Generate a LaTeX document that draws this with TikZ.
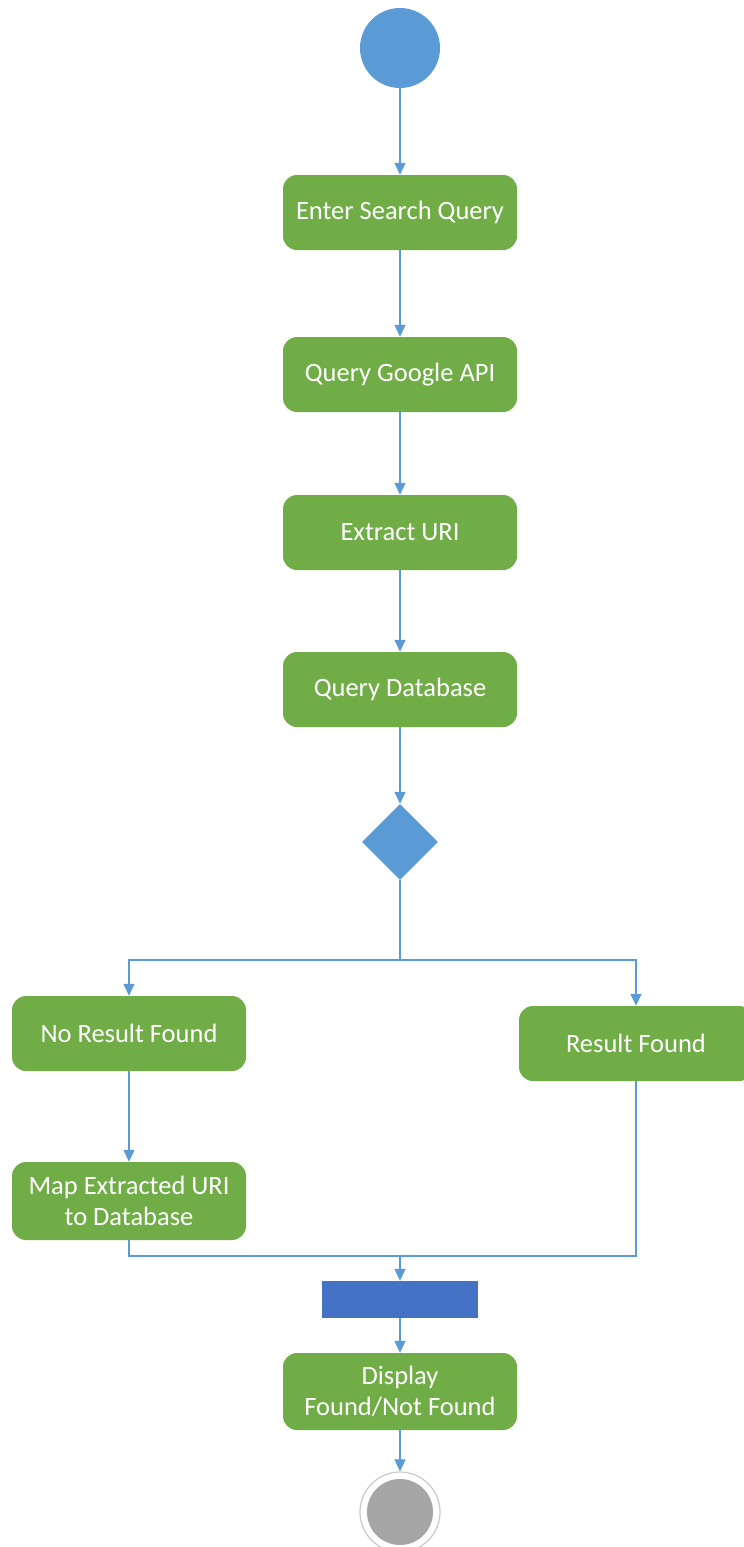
\documentclass[tikz,border=0pt]{standalone}
\usepackage{fontspec}
\setmainfont{Carlito}
\usetikzlibrary{arrows.meta,shapes.geometric}
\definecolor{actgreen}{HTML}{70AD47}
\definecolor{flowblue}{HTML}{5B9BD5}
\definecolor{barblue}{HTML}{4472C4}
\definecolor{endgray}{HTML}{A5A5A5}
\tikzset{
  activity/.style={rectangle, rounded corners=14pt, fill=actgreen, text=white,
    minimum width=234pt, minimum height=75pt, align=center, inner sep=2pt,
    font=\fontsize{26.5}{31}\selectfont},
  flow/.style={draw=flowblue, line width=1.4pt, -{Triangle[width=11pt,length=12pt]}},
  plainflow/.style={draw=flowblue, line width=1.4pt},
}
\begin{document}
\begin{tikzpicture}[x=1pt,y=-1pt]
  \clip (0,0) rectangle (744,1547);
  \fill[white] (0,0) rectangle (744,1547);

  % initial node
  \node[circle, fill=flowblue, minimum size=80pt, inner sep=0] (start) at (400,48) {};

  % main activities
  \node[activity] (enter) at (400,212.5) {Enter Search Query};
  \node[activity] (google) at (400,374.5) {Query Google API};
  \node[activity] (extract) at (400,532.5) {Extract URI};
  \node[activity] (querydb) at (400,689.5) {Query Database};

  % decision
  \node[diamond, fill=flowblue, minimum width=76pt, minimum height=76pt, inner sep=0, aspect=1] (decide) at (400,842) {};
  \coordinate (split) at (400,960);

  % branches
  \node[activity] (noresult) at (129,1033.5) {No Result Found};
  \node[activity] (result) at (636,1043.5) {Result Found};
  \node[activity, minimum height=78pt] (mapuri) at (129,1201) {Map Extracted URI\\to Database};

  % join bar
  \coordinate (join) at (400,1256);
  \node[rectangle, fill=barblue, minimum width=156pt, minimum height=37pt, inner sep=0] (bar) at (400,1299.5) {};

  \node[activity, minimum height=77pt] (display) at (400,1391.5) {Display\\Found/Not Found};

  % final node
  \node[circle, draw=endgray!60, line width=1.2pt, fill=white, minimum size=80pt, inner sep=0] (final) at (400,1512) {};
  \node[circle, fill=endgray, minimum size=66pt, inner sep=0] (finalin) at (400,1512) {};

  % connectors
  \draw[flow] (start) -- (enter);
  \draw[flow] (enter) -- (google);
  \draw[flow] (google) -- (extract);
  \draw[flow] (extract) -- (querydb);
  \draw[flow] (querydb) -- (decide);
  \draw[plainflow] (decide) -- (split);
  \draw[flow] (split) -| (noresult);
  \draw[flow] (split) -| (result);
  \draw[flow] (noresult) -- (mapuri);
  \draw[plainflow] (mapuri) |- (join);
  \draw[plainflow] (result) |- (join);
  \draw[flow] (join) -- (bar);
  \draw[flow] (bar) -- (display);
  \draw[flow] (display) -- (final);
\end{tikzpicture}
\end{document}
